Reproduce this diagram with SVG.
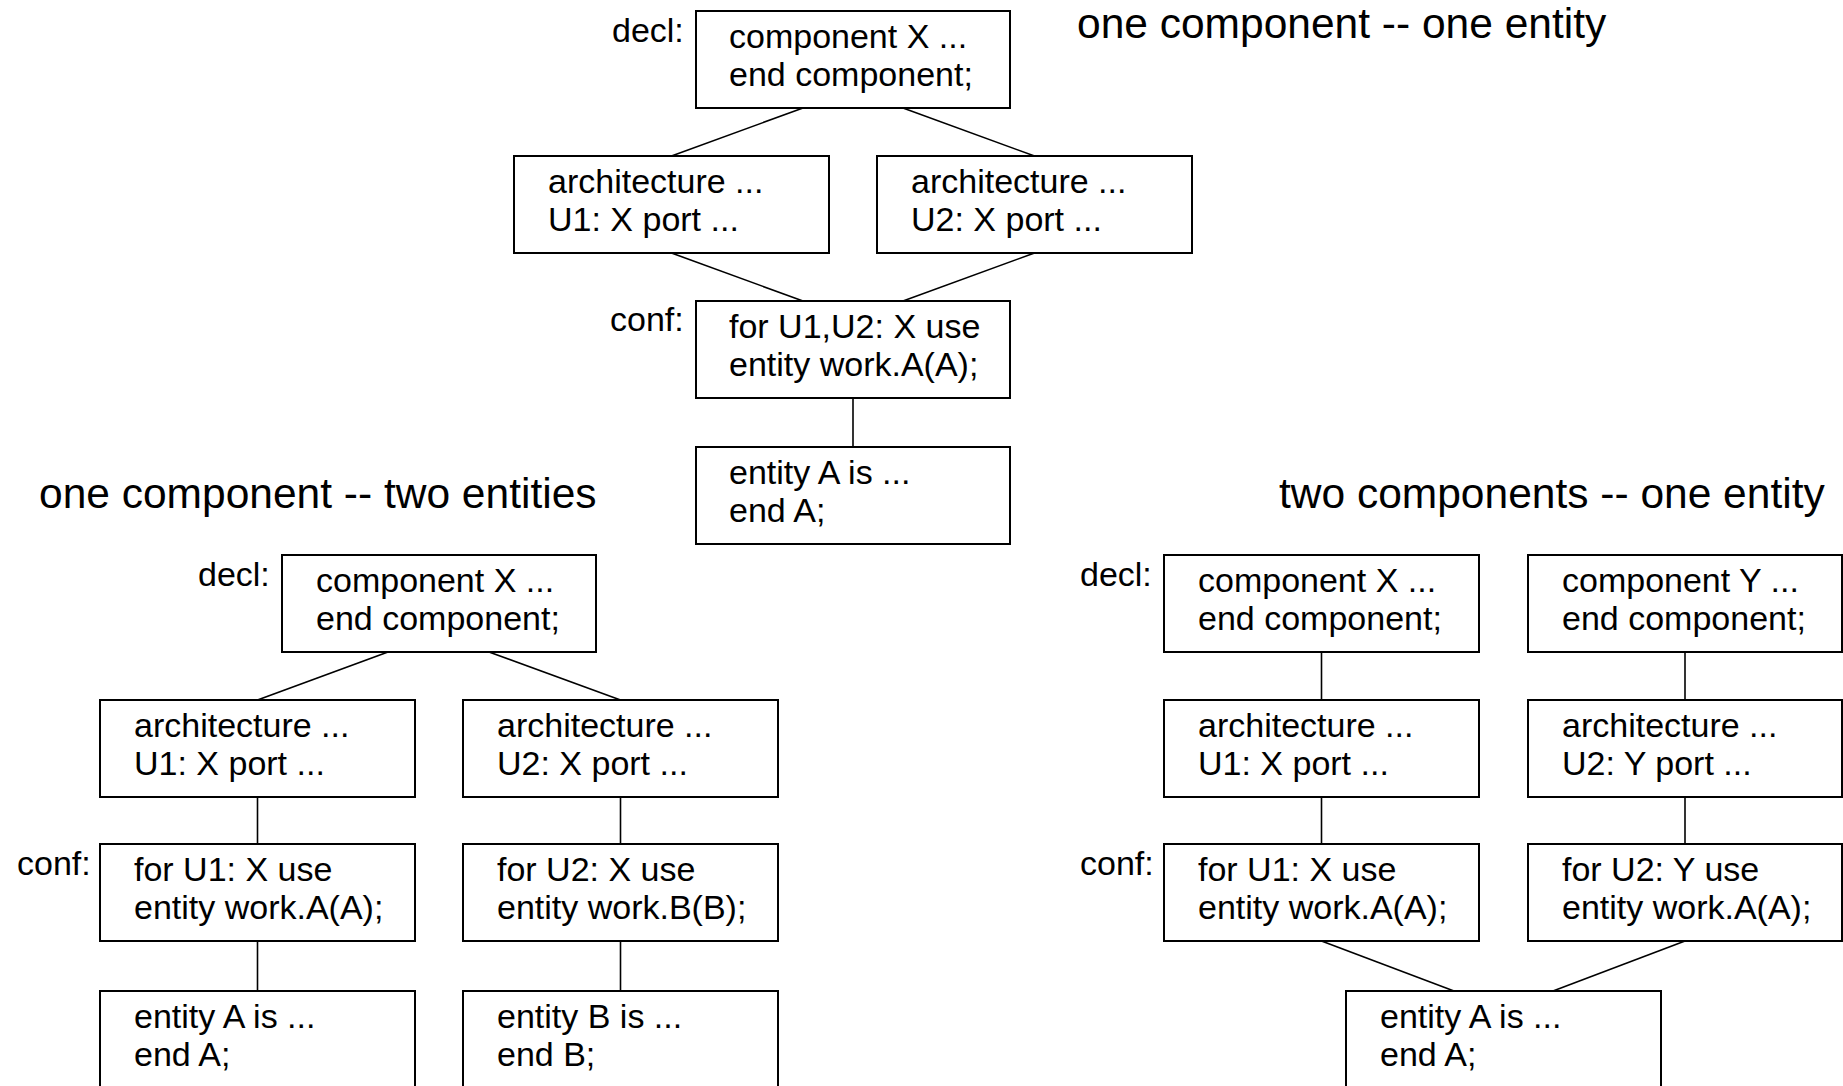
<svg xmlns="http://www.w3.org/2000/svg" width="1843" height="1086" viewBox="0 0 1843 1086">
<style>
.box{fill:#fff;stroke:#000;stroke-width:2}
.t{font-family:"Liberation Sans",Arial,sans-serif;font-size:34px;fill:#000}
.title{font-family:"Liberation Sans",Arial,sans-serif;font-size:42.5px;fill:#000}
.c line{stroke:#000;stroke-width:1.6}
</style>
<rect width="1843" height="1086" fill="#fff"/>
<g class="c" id="connectors">
<line x1="803" y1="108" x2="671.5" y2="156"/>
<line x1="903" y1="108" x2="1034.5" y2="156"/>
<line x1="671.5" y1="253" x2="803" y2="301"/>
<line x1="1034.5" y1="253" x2="903" y2="301"/>
<line x1="853" y1="398" x2="853" y2="447"/>
<line x1="388" y1="652" x2="257.5" y2="700"/>
<line x1="489" y1="652" x2="620.5" y2="700"/>
<line x1="257.5" y1="797" x2="257.5" y2="844"/>
<line x1="620.5" y1="797" x2="620.5" y2="844"/>
<line x1="257.5" y1="941" x2="257.5" y2="991"/>
<line x1="620.5" y1="941" x2="620.5" y2="991"/>
<line x1="1321.5" y1="652" x2="1321.5" y2="700"/>
<line x1="1685" y1="652" x2="1685" y2="700"/>
<line x1="1321.5" y1="797" x2="1321.5" y2="844"/>
<line x1="1685" y1="797" x2="1685" y2="844"/>
<line x1="1321.5" y1="941" x2="1454" y2="991"/>
<line x1="1685" y1="941" x2="1553" y2="991"/>
</g>
<g id="titles">
<text class="title" x="1077" y="38">one component -- one entity</text>
<text class="title" x="39" y="508">one component -- two entities</text>
<text class="title" x="1279" y="508">two components -- one entity</text>
</g>
<g id="labels">
<text class="t" x="612" y="42">decl:</text>
<text class="t" x="610" y="331">conf:</text>
<text class="t" x="198" y="586">decl:</text>
<text class="t" x="17" y="875">conf:</text>
<text class="t" x="1080" y="586">decl:</text>
<text class="t" x="1080" y="875">conf:</text>
</g>
<g id="t_decl"><rect class="box" x="696" y="11" width="314" height="97"/><text class="t" x="729" y="48">component X ...</text><text class="t" x="729" y="86">end component;</text></g>
<g id="t_arch1"><rect class="box" x="514" y="156" width="315" height="97"/><text class="t" x="548" y="193">architecture ...</text><text class="t" x="548" y="231">U1: X port ...</text></g>
<g id="t_arch2"><rect class="box" x="877" y="156" width="315" height="97"/><text class="t" x="911" y="193">architecture ...</text><text class="t" x="911" y="231">U2: X port ...</text></g>
<g id="t_conf"><rect class="box" x="696" y="301" width="314" height="97"/><text class="t" x="729" y="338">for U1,U2: X use</text><text class="t" x="729" y="376">entity work.A(A);</text></g>
<g id="t_entA"><rect class="box" x="696" y="447" width="314" height="97"/><text class="t" x="729" y="484">entity A is ...</text><text class="t" x="729" y="522">end A;</text></g>
<g id="l_decl"><rect class="box" x="282" y="555" width="314" height="97"/><text class="t" x="316" y="592">component X ...</text><text class="t" x="316" y="630">end component;</text></g>
<g id="l_arch1"><rect class="box" x="100" y="700" width="315" height="97"/><text class="t" x="134" y="737">architecture ...</text><text class="t" x="134" y="775">U1: X port ...</text></g>
<g id="l_arch2"><rect class="box" x="463" y="700" width="315" height="97"/><text class="t" x="497" y="737">architecture ...</text><text class="t" x="497" y="775">U2: X port ...</text></g>
<g id="l_conf1"><rect class="box" x="100" y="844" width="315" height="97"/><text class="t" x="134" y="881">for U1: X use</text><text class="t" x="134" y="919">entity work.A(A);</text></g>
<g id="l_conf2"><rect class="box" x="463" y="844" width="315" height="97"/><text class="t" x="497" y="881">for U2: X use</text><text class="t" x="497" y="919">entity work.B(B);</text></g>
<g id="l_entA"><rect class="box" x="100" y="991" width="315" height="97"/><text class="t" x="134" y="1028">entity A is ...</text><text class="t" x="134" y="1066">end A;</text></g>
<g id="l_entB"><rect class="box" x="463" y="991" width="315" height="97"/><text class="t" x="497" y="1028">entity B is ...</text><text class="t" x="497" y="1066">end B;</text></g>
<g id="r_declX"><rect class="box" x="1164" y="555" width="315" height="97"/><text class="t" x="1198" y="592">component X ...</text><text class="t" x="1198" y="630">end component;</text></g>
<g id="r_declY"><rect class="box" x="1528" y="555" width="314" height="97"/><text class="t" x="1562" y="592">component Y ...</text><text class="t" x="1562" y="630">end component;</text></g>
<g id="r_arch1"><rect class="box" x="1164" y="700" width="315" height="97"/><text class="t" x="1198" y="737">architecture ...</text><text class="t" x="1198" y="775">U1: X port ...</text></g>
<g id="r_arch2"><rect class="box" x="1528" y="700" width="314" height="97"/><text class="t" x="1562" y="737">architecture ...</text><text class="t" x="1562" y="775">U2: Y port ...</text></g>
<g id="r_conf1"><rect class="box" x="1164" y="844" width="315" height="97"/><text class="t" x="1198" y="881">for U1: X use</text><text class="t" x="1198" y="919">entity work.A(A);</text></g>
<g id="r_conf2"><rect class="box" x="1528" y="844" width="314" height="97"/><text class="t" x="1562" y="881">for U2: Y use</text><text class="t" x="1562" y="919">entity work.A(A);</text></g>
<g id="r_entA"><rect class="box" x="1346" y="991" width="315" height="97"/><text class="t" x="1380" y="1028">entity A is ...</text><text class="t" x="1380" y="1066">end A;</text></g>
</svg>
